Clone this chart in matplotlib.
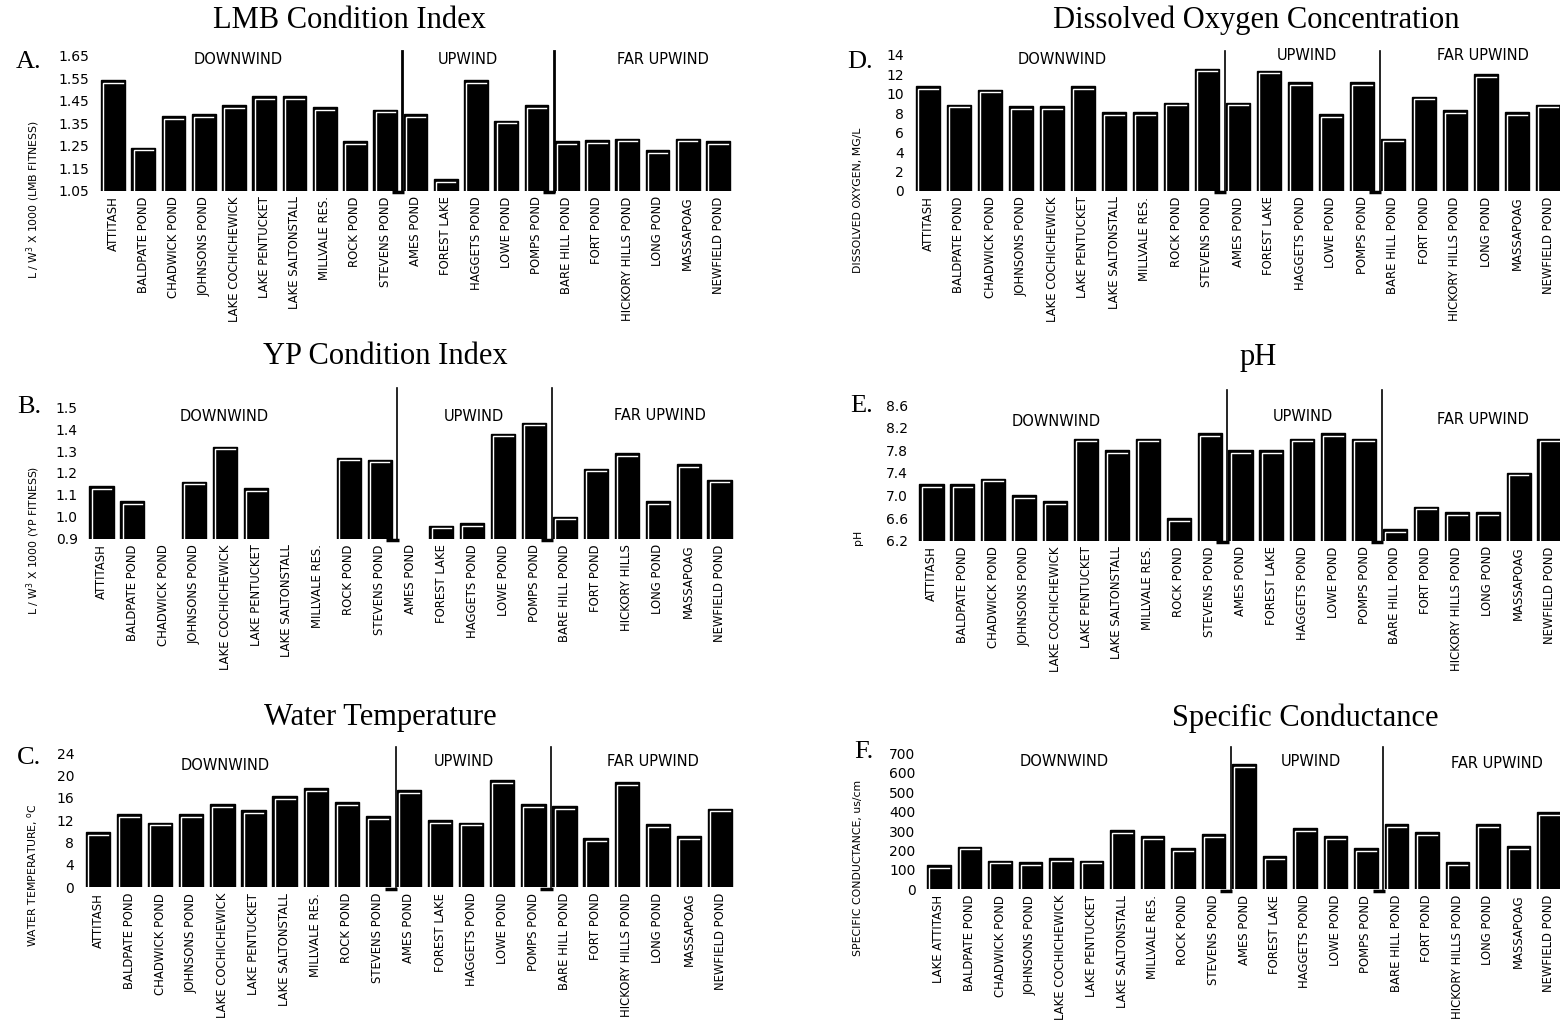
import numpy as np
import matplotlib
matplotlib.use("Agg")
from matplotlib import pyplot as plt

# lake names along every x axis
lakes = ["ATTITASH", "BALDPATE POND", "CHADWICK POND", "JOHNSONS POND",
         "LAKE COCHICHEWICK", "LAKE PENTUCKET", "LAKE SALTONSTALL",
         "MILLVALE RES.", "ROCK POND", "STEVENS POND", "AMES POND",
         "FOREST LAKE", "HAGGETS POND", "LOWE POND", "POMPS POND",
         "BARE HILL POND", "FORT POND", "HICKORY HILLS POND", "LONG POND",
         "MASSAPOAG", "NEWFIELD POND"]
lakes_yp = lakes[:17] + ["HICKORY HILLS"] + lakes[18:]
lakes_cond = ["LAKE ATTITASH"] + lakes[1:]

nan = np.nan
lmb_fitness = [1.54, 1.24, 1.38, 1.39, 1.43, 1.47, 1.47, 1.42, 1.27, 1.41, 1.39,
               1.10, 1.54, 1.36, 1.43, 1.27, 1.275, 1.28, 1.23, 1.28, 1.27]
yp_fitness = [1.14, 1.07, nan, 1.16, 1.32, 1.13, nan, nan, 1.27, 1.26, nan,
              0.96, 0.97, 1.38, 1.43, 1.00, 1.22, 1.29, 1.07, 1.24, 1.17]
water_temp = [9.9, 13.1, 11.6, 13.1, 14.9, 13.8, 16.3, 17.7, 15.2, 12.7, 17.4,
              12.0, 11.6, 19.2, 14.9, 14.5, 8.8, 18.8, 11.3, 9.1, 14.1]
diss_oxygen = [10.8, 8.9, 10.4, 8.7, 8.7, 10.8, 8.1, 8.1, 9.1, 12.6, 9.1,
               12.4, 11.2, 7.9, 11.2, 5.4, 9.7, 8.3, 12.0, 8.1, 8.9]
ph = [7.2, 7.2, 7.3, 7.0, 6.9, 8.0, 7.8, 8.0, 6.6, 8.1, 7.8,
      7.8, 8.0, 8.1, 8.0, 6.4, 6.8, 6.7, 6.7, 7.4, 8.0]
conductance = [125, 220, 148, 138, 160, 148, 304, 273, 211, 283, 643,
               170, 314, 273, 211, 334, 293, 139, 334, 221, 396]

regions = ["DOWNWIND", "UPWIND", "FAR UPWIND"]
dividers = [9.57, 14.57]

W, H = 1560, 1027
fig = plt.figure(figsize=(W / 100, H / 100), dpi=100)
fig.patch.set_facecolor("white")

SANS = "DejaVu Sans"
SERIF = "Liberation Serif"


def panel(x_first, step, y_top, y_bot, values, names, ylim, ticks, fmt,
          line_top, div_lw=1.2):
    x0 = x_first - 0.5 * step
    x1 = x_first + 20.5 * step
    ax = fig.add_axes([x0 / W, 1 - y_bot / H, (x1 - x0) / W, (y_bot - y_top) / H])
    pos = np.arange(len(names))
    bw = 0.78
    ax.bar(pos, values, width=bw, bottom=0, color="black", edgecolor="black",
           linewidth=1)
    ax.set_xlim(-0.5, 20.5)
    ax.set_ylim(*ylim)

    # thin white highlight inside each bar, along the left side and the top
    px_y = (ylim[1] - ylim[0]) / (y_bot - y_top)
    dx = 2.2 / step
    dy = 2.5 * px_y
    for p, v in zip(pos, values):
        if np.isnan(v):
            continue
        xl = p - bw / 2 + dx
        xr = p + bw / 2 - dx
        ax.plot([xl, xl, xr], [ylim[0], v - dy, v - dy], color="white", lw=1,
                solid_joinstyle="miter")

    # region separators with the small foot at the baseline
    extra = (y_top - line_top) / (y_bot - y_top)
    for d in dividers:
        ax.axvline(d, ymin=0, ymax=1 + extra, color="black", lw=div_lw,
                   clip_on=False)
        ax.plot([d - 0.35, d + 0.05], [ylim[0] - 1.2 * px_y] * 2, color="black",
                lw=2.5, solid_capstyle="butt", clip_on=False)

    ax.set_xticks(pos)
    ax.set_xticklabels(names, rotation=90, family=SANS, fontsize=8.4,
                       va="top", ha="center")
    ax.set_yticks(ticks)
    ax.set_yticklabels([fmt % t for t in ticks], family=SANS, fontsize=10)
    ax.tick_params(axis="both", length=0)
    ax.tick_params(axis="y", pad=6)
    ax.tick_params(axis="x", pad=4)
    for sp in ax.spines.values():
        sp.set_visible(False)
    ax.patch.set_alpha(0)
    return ax


def ftext(x, y, s, **kw):
    fig.text(x / W, 1 - y / H, s, **kw)


# A. largemouth bass condition
panel(113, 30.25, 55.7, 190.7, lmb_fitness, lakes, (1.05, 1.65),
      np.round(np.arange(1.05, 1.66, 0.1), 2), "%.2f", 51, div_lw=2)
# D. dissolved oxygen
panel(928, 31.0, 55, 191, diss_oxygen, lakes, (0, 14),
      np.arange(0, 15, 2), "%d", 51)
# B. yellow perch condition
panel(101.5, 30.9, 407.3, 538.7, yp_fitness, lakes_yp, (0.9, 1.5),
      np.round(np.arange(0.9, 1.51, 0.1), 1), "%.1f", 388)
# E. pH
panel(931.5, 30.9, 405, 540.7, ph, lakes, (6.2, 8.6),
      np.round(np.arange(6.2, 8.61, 0.4), 1), "%.1f", 390)
# C. water temperature
panel(98, 31.1, 753.3, 887.3, water_temp, lakes, (0, 24),
      np.arange(0, 25, 4), "%d", 747)
# F. specific conductance
panel(939, 30.5, 753.3, 889.3, conductance, lakes_cond, (0, 700),
      np.arange(0, 701, 100), "%d", 747)

# panel titles
titles = [(349, 20, "LMB Condition Index"),
          (1256, 20, "Dissolved Oxygen Concentration"),
          (385, 357, "YP Condition Index"),
          (1258, 357, "pH"),
          (380, 718, "Water Temperature"),
          (1305, 718, "Specific Conductance")]
for x, y, s in titles:
    ftext(x, y, s, family=SERIF, fontsize=22, ha="center", va="center")

# panel letters
for x, y, s in [(41, 62, "A."), (873, 62, "D."), (41, 407, "B."),
                (873, 406, "E."), (41, 758, "C."), (873, 752, "F.")]:
    ftext(x, y, s, family=SERIF, fontsize=19, ha="right", va="center")

# region headings above the bars
heads = [((238.5, 59), (468, 59), (662.5, 59)),
         ((1062.5, 59), (1306.5, 55), (1482.5, 55)),
         ((224.5, 417), (474, 417), (660, 415)),
         ((1056, 421), (1302.5, 417), (1482.5, 419)),
         ((225, 765), (464, 761), (653, 761)),
         ((1064, 761), (1310.5, 761), (1496.5, 763))]
for row in heads:
    for (x, y), s in zip(row, regions):
        ftext(x, y, s, family=SANS, fontsize=10.5, ha="center", va="center")

# y axis titles
ylabels = [(33, 200, r"L / W$^3$ X 1000 (LMB FITNESS)"),
           (858, 200, "DISSOLVED OXYGEN, MG/L"),
           (33, 540, r"L / W$^3$ X 1000 (YP FITNESS)"),
           (858, 537, "pH"),
           (33, 875, r"WATER TEMPERATURE, $^{\rm o}$C"),
           (858, 868, "SPECIFIC CONDUCTANCE, us/cm")]
for x, y, s in ylabels:
    ftext(x, y, s, family=SANS, fontsize=7.8, rotation=90, ha="center",
          va="center")

fig.savefig("out.png", dpi=100)
